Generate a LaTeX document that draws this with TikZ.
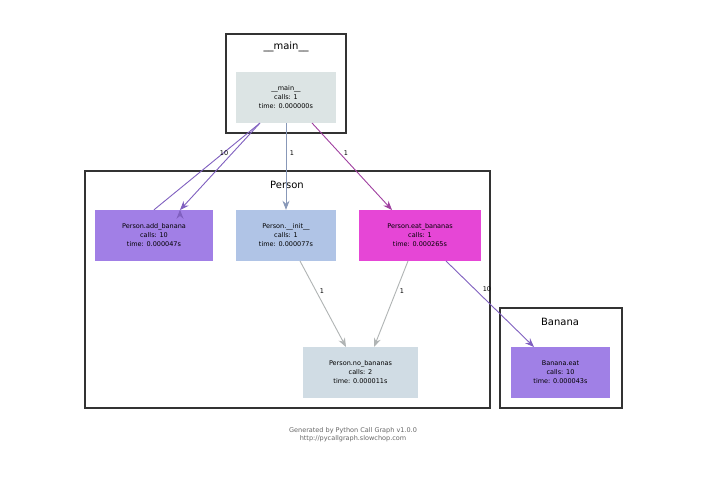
\documentclass[tikz,border=0pt]{standalone}
\usepackage{fontspec}
\setmainfont{DejaVu Sans}
\usetikzlibrary{positioning, arrows.meta}
\definecolor{mainfill}{HTML}{DCE4E4}
\definecolor{addfill}{HTML}{A17FE6}
\definecolor{initfill}{HTML}{B0C4E6}
\definecolor{eatfill}{HTML}{E646D6}
\definecolor{nofill}{HTML}{D0DCE4}
\definecolor{bananafill}{HTML}{A080E6}
\definecolor{edgepurple}{HTML}{8060C0}
\definecolor{edgeblue}{HTML}{8898B8}
\definecolor{edgemagenta}{HTML}{A040A0}
\definecolor{edgegray}{HTML}{B0B4B4}
\tikzset{
  func/.style={minimum width=#1, minimum height=51, inner sep=0, align=center,
    font=\fontsize{6.5}{9}\selectfont},
  cluster/.style={draw=black!80, line width=1.6},
  ctitle/.style={font=\fontsize{10}{12}\selectfont},
  call/.style={-{Stealth[length=9,width=7]}, line width=0.9},
  lbl/.style={font=\fontsize{6.5}{8}\selectfont, fill=none}
}
\begin{document}
\begin{tikzpicture}[x=1pt, y=-1pt]
  \useasboundingbox[fill=white] (0,0) rectangle (717,497);

  % clusters
  \draw[cluster] (226,34) rectangle (346,133);
  \node[ctitle] at (286,47) {\_\_main\_\_};
  \draw[cluster] (85,171) rectangle (490,408);
  \node[ctitle] at (287,185) {Person};
  \draw[cluster] (500,308) rectangle (622,408);
  \node[ctitle] at (560,322) {Banana};

  % functions
  \node[func=100, fill=mainfill] (main) at (286,97.5) {\_\_main\_\_\\calls: 1\\time: 0.000000s};
  \node[func=118, fill=addfill] (add) at (154,235.5) {Person.add\_banana\\calls: 10\\time: 0.000047s};
  \node[func=100, fill=initfill] (init) at (286,235.5) {Person.\_\_init\_\_\\calls: 1\\time: 0.000077s};
  \node[func=122, fill=eatfill] (eat) at (420,235.5) {Person.eat\_bananas\\calls: 1\\time: 0.000265s};
  \node[func=115, fill=nofill] (no) at (360.5,372.5) {Person.no\_bananas\\calls: 2\\time: 0.000011s};
  \node[func=99, fill=bananafill] (beat) at (560.5,372.5) {Banana.eat\\calls: 10\\time: 0.000043s};

  % calls
  \draw[call, edgepurple] (main.south west) ++(24,0) -- (add.north) ++(26,0)
    node[pos=0.5, lbl, black, right, xshift=4] {};
  \draw[call, edgepurple] (260,123) -- (180,210) node[pos=0.35, lbl, black, left] {10};
  \draw[call, edgeblue] (main.south) -- (init.north) node[pos=0.35, lbl, black, right] {1};
  \draw[call, edgemagenta] (312,123) -- (392,210) node[pos=0.35, lbl, black, right] {1};
  \draw[call, edgegray] (300,261) -- (346,347) node[pos=0.35, lbl, black, right] {1};
  \draw[call, edgegray] (408,261) -- (374,347) node[pos=0.35, lbl, black, right] {1};
  \draw[call, edgepurple] (446,261) -- (534,347) node[pos=0.33, lbl, black, right, xshift=4] {10};

  % footer
  \node[font=\fontsize{6.5}{8}\selectfont, text=black!60, align=center] (gen) at (353,435)
    {Generated by Python Call Graph v1.0.0\\http://pycallgraph.slowchop.com};
\end{tikzpicture}
\end{document}
